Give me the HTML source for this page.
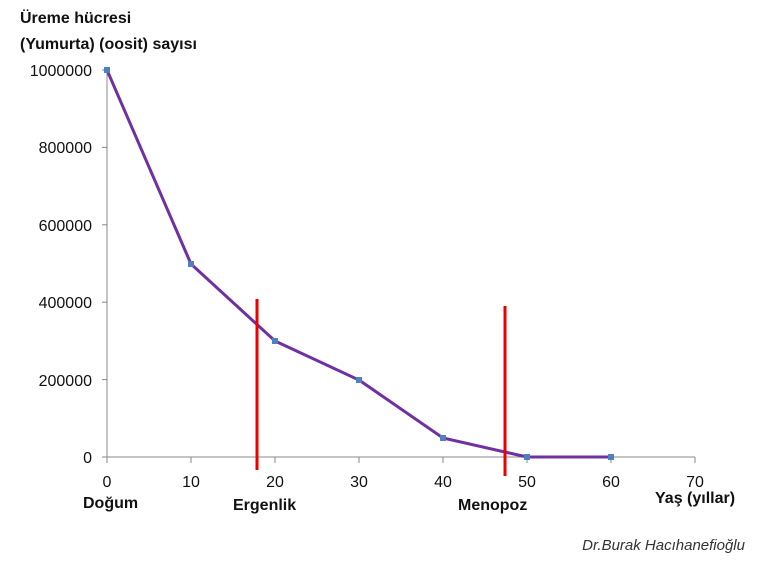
<!DOCTYPE html>
<html><head><meta charset="utf-8"><style>
body{margin:0;background:#fff;}
svg{display:block;font-family:"Liberation Sans",sans-serif;}
</style></head><body>
<svg width="768" height="576" viewBox="0 0 768 576">
<text x="20" y="23" font-size="16" font-weight="bold" fill="#111">Üreme hücresi</text>
<text x="20" y="49" font-size="16" font-weight="bold" fill="#111">(Yumurta) (oosit) sayısı</text>
<g stroke="#888" stroke-width="1">
<line x1="107" y1="70" x2="107" y2="457"/>
<line x1="107" y1="457" x2="695" y2="457"/>
<line x1="102" y1="70" x2="107" y2="70"/>
<line x1="102" y1="147.4" x2="107" y2="147.4"/>
<line x1="102" y1="224.8" x2="107" y2="224.8"/>
<line x1="102" y1="302.2" x2="107" y2="302.2"/>
<line x1="102" y1="379.6" x2="107" y2="379.6"/>
<line x1="102" y1="457" x2="107" y2="457"/>
<line x1="107" y1="457" x2="107" y2="463"/>
<line x1="191" y1="457" x2="191" y2="463"/>
<line x1="275" y1="457" x2="275" y2="463"/>
<line x1="359" y1="457" x2="359" y2="463"/>
<line x1="443" y1="457" x2="443" y2="463"/>
<line x1="527" y1="457" x2="527" y2="463"/>
<line x1="611" y1="457" x2="611" y2="463"/>
<line x1="695" y1="457" x2="695" y2="463"/>
</g>
<g font-size="16" fill="#111" text-anchor="end">
<text x="92" y="76">1000000</text>
<text x="92" y="153">800000</text>
<text x="92" y="231">600000</text>
<text x="92" y="308">400000</text>
<text x="92" y="386">200000</text>
<text x="92" y="463">0</text>
</g>
<g font-size="16" fill="#111" text-anchor="middle">
<text x="107" y="487">0</text><text x="191" y="487">10</text><text x="275" y="487">20</text>
<text x="359" y="487">30</text><text x="443" y="487">40</text><text x="527" y="487">50</text>
<text x="611" y="487">60</text><text x="695" y="487">70</text>
</g>
<g font-size="16" font-weight="bold" fill="#111">
<text x="83" y="508">Doğum</text>
<text x="233" y="510">Ergenlik</text>
<text x="458" y="510">Menopoz</text>
<text x="655" y="503">Yaş (yıllar)</text>
</g>
<text x="745" y="550" font-size="15" font-style="italic" fill="#333" text-anchor="end">Dr.Burak Hacıhanefioğlu</text>
<polyline points="107,70 191,264 275,341 359,380 443,438 527,457 611,457" fill="none" stroke="#7030a0" stroke-width="3"/>
<g fill="#4f81bd">
<rect x="104" y="67" width="6" height="6"/><rect x="188" y="261" width="6" height="6"/>
<rect x="272" y="338" width="6" height="6"/><rect x="356" y="377" width="6" height="6"/>
<rect x="440" y="435" width="6" height="6"/><rect x="524" y="454" width="6" height="6"/>
<rect x="608" y="454" width="6" height="6"/>
</g>
<line x1="257" y1="299" x2="257" y2="470" stroke="#e00" stroke-width="3"/>
<line x1="505" y1="306" x2="505" y2="476" stroke="#e00" stroke-width="3"/>
</svg>
</body></html>
